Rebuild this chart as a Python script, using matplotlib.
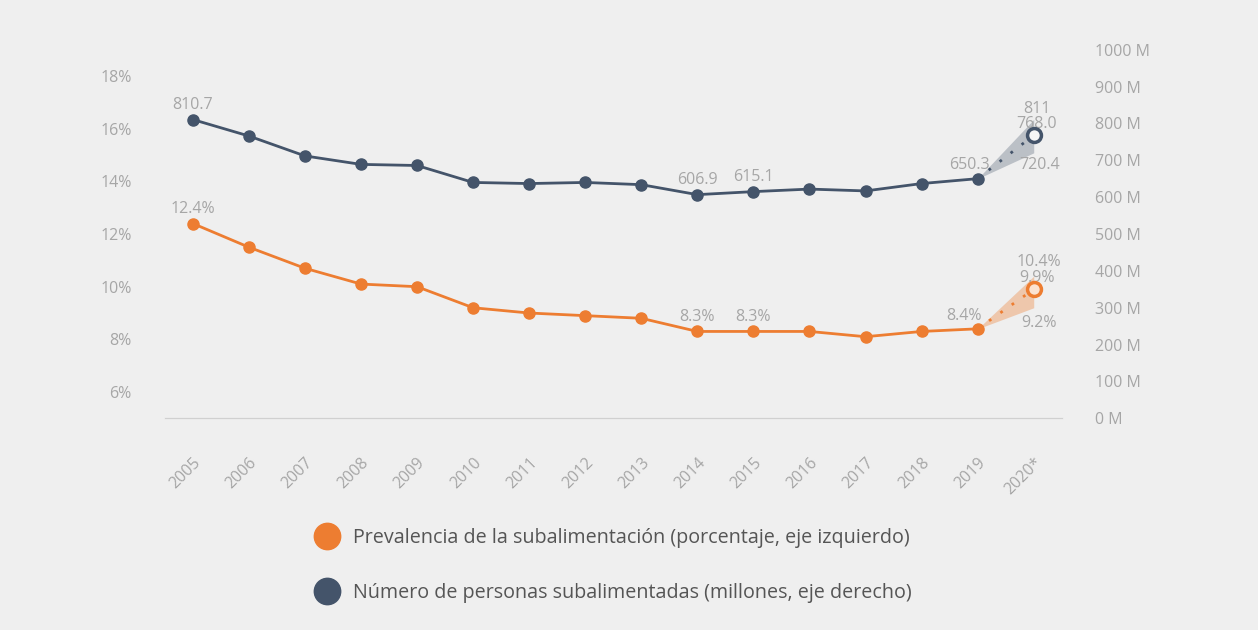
import matplotlib.pyplot as plt
from matplotlib.lines import Line2D

plt.rcParams['font.family'] = ['Open Sans', 'DejaVu Sans']

years = list(range(2005, 2021))
year_labels = [str(y) for y in range(2005, 2020)] + ["2020*"]

# prevalence of undernourishment (%)
prevalence = [12.4, 11.5, 10.7, 10.1, 10.0, 9.2, 9.0, 8.9, 8.8, 8.3, 8.3, 8.3, 8.1, 8.3, 8.4, 9.9]
prev_low, prev_high = 9.2, 10.4

# number of undernourished people (millions)
people = [810.7, 766, 712, 689, 686, 640, 637, 640, 634, 606.9, 615.1, 622, 617, 637, 650.3, 768.0]
people_low, people_high = 720.4, 811

orange = "#ED7D31"
slate = "#44546A"
grey = "#a6a6a6"
bg = "#efefef"

fig = plt.figure(figsize=(12.58, 6.30), dpi=100, facecolor=bg)
ax = fig.add_axes([0.131, 0.336, 0.713, 0.585], facecolor=bg)
ax2 = ax.twinx()

# left axis: prevalence
ax.plot(years[:-1], prevalence[:-1], color=orange, lw=2, marker="o", ms=8, zorder=3)
ax.plot(years[-2:], prevalence[-2:], color=orange, lw=2, ls=(0, (1, 4)), zorder=3)
ax.fill_between(years[-2:], [prevalence[-2], prev_low], [prevalence[-2], prev_high],
                color=orange, alpha=0.35, lw=0)
ax.plot(years[-1], prevalence[-1], marker="o", ms=10, mfc="#fbe3d2", mec=orange, mew=2.5, zorder=4)

# right axis: people
ax2.plot(years[:-1], people[:-1], color=slate, lw=2, marker="o", ms=8, zorder=3)
ax2.plot(years[-2:], people[-2:], color=slate, lw=2, ls=(0, (1, 4)), zorder=3)
ax2.fill_between(years[-2:], [people[-2], people_low], [people[-2], people_high],
                 color=slate, alpha=0.3, lw=0)
ax2.plot(years[-1], people[-1], marker="o", ms=10, mfc="#f5f5f5", mec=slate, mew=2.5, zorder=4)

ax.set_xlim(2004.5, 2020.5)
ax.set_ylim(5, 19)
ax2.set_ylim(0, 1000)

ax.set_yticks([6, 8, 10, 12, 14, 16, 18])
ax.set_yticklabels([f"{v}%" for v in [6, 8, 10, 12, 14, 16, 18]])
ax2.set_yticks(range(0, 1001, 100))
ax2.set_yticklabels([f"{v} M" for v in range(0, 1001, 100)])
ax.set_xticks(years)
ax.set_xticklabels(year_labels, rotation=45, ha="right", rotation_mode="anchor")

for a in (ax, ax2):
    for s in ["top", "left", "right"]:
        a.spines[s].set_visible(False)
    a.spines["bottom"].set_color("#d0d0d0")
    a.tick_params(length=0, colors=grey, labelsize=11.5)
ax.tick_params(axis="y", pad=24)
ax.tick_params(axis="x", pad=26)
ax2.tick_params(axis="y", pad=24)

lbl = dict(color=grey, fontsize=11.5, ha="center", va="bottom")
# prevalence labels
ax.text(2005, prevalence[0] + 0.25, "12.4%", **lbl)
ax.text(2014, prevalence[9] + 0.25, "8.3%", **lbl)
ax.text(2015, prevalence[10] + 0.25, "8.3%", **lbl)
ax.text(2018.75, prevalence[14] + 0.2, "8.4%", **lbl)
ax.text(2020.1, prevalence[-1] + 0.72, "10.4%", **lbl)
ax.text(2020.05, prevalence[-1] + 0.14, "9.9%", **lbl)
ax.text(2020.1, 8.3, "9.2%", **lbl)
# people labels
ax2.text(2005, people[0] + 18, "810.7", **lbl)
ax2.text(2014, people[9] + 18, "606.9", **lbl)
ax2.text(2015, people[10] + 18, "615.1", **lbl)
ax2.text(2018.85, people[14] + 14, "650.3", **lbl)
ax2.text(2020.05, people[-1] + 50, "811", **lbl)
ax2.text(2020.05, people[-1] + 8, "768.0", **lbl)
ax2.text(2020.1, 665, "720.4", **lbl)

handles = [
    Line2D([], [], ls="none", marker="o", ms=19, color=orange),
    Line2D([], [], ls="none", marker="o", ms=19, color=slate),
]
labels = [
    "Prevalencia de la subalimentación (porcentaje, eje izquierdo)",
    "Número de personas subalimentadas (millones, eje derecho)",
]
fig.legend(handles, labels, loc="upper left", bbox_to_anchor=(0.238, 0.174),
           frameon=False, fontsize=14.2, labelcolor="#555555", labelspacing=1.75,
           handletextpad=0.3, borderaxespad=0)

fig.savefig("out.png", dpi=100, facecolor=bg)
plt.close()
